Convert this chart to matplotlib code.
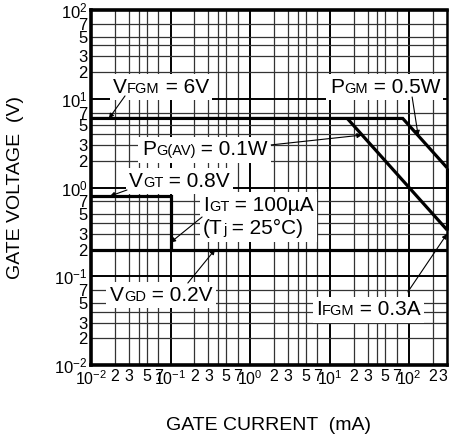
"""
Gate characteristics chart (log-log), recreated with matplotlib.
"""
import matplotlib
matplotlib.use("Agg")
import matplotlib.pyplot as plt
from matplotlib.offsetbox import TextArea, HPacker, VPacker, AnnotationBbox
from matplotlib.ticker import FixedLocator, FixedFormatter

plt.rcParams["font.family"] = ["Liberation Sans", "DejaVu Sans"]
plt.rcParams["mathtext.fontset"] = "custom"
plt.rcParams["mathtext.rm"] = "Liberation Sans"

# ---- data (gate current in mA, gate voltage in V) ----
pgm_i = [0.01, 83.3, 300]          # VFGM = 6V then PGM = 0.5W
pgm_v = [6.0, 6.0, 1.67]
pgav_i = [16.7, 300]               # PG(AV) = 0.1W
pgav_v = [6.0, 0.333]
vgt_i = [0.01, 0.1, 0.1]           # VGT = 0.8V, IGT = 100uA
vgt_v = [0.8, 0.8, 0.2]
vgd_i = [0.01, 300]                # VGD = 0.2V
vgd_v = [0.2, 0.2]
ifgm_i = [300, 300]                # IFGM = 0.3A
ifgm_v = [1.67, 0.333]

decades = [-2, -1, 0, 1, 2]
minor_mant = [2, 3, 4, 5, 7]
label_mant = [2, 3, 5, 7]
x_max = 300
y_max = 100

fig = plt.figure(figsize=(4.49, 4.41), dpi=100)
ax = fig.add_axes([0.2027, 0.1723, 0.7929, 0.805])
ax.set_xscale("log")
ax.set_yscale("log")
ax.set_xlim(1e-2, x_max)
ax.set_ylim(1e-2, y_max)

major_ticks = [10.0 ** d for d in decades]
major_labels = [r"$\mathregular{10^{%d}}$" % d for d in decades]


def minor_ticks(limit):
    ticks, labels = [], []
    for d in decades:
        for m in minor_mant:
            v = m * 10.0 ** d
            if v <= limit * 1.0001:
                ticks.append(v)
                labels.append(str(m) if m in label_mant else "")
    return ticks, labels


for axis, limit in ((ax.xaxis, x_max), (ax.yaxis, y_max)):
    mt, ml = minor_ticks(limit)
    axis.set_major_locator(FixedLocator(major_ticks))
    axis.set_major_formatter(FixedFormatter(major_labels))
    axis.set_minor_locator(FixedLocator(mt))
    axis.set_minor_formatter(FixedFormatter(ml))

ax.tick_params(which="both", length=0, labelsize=12)
ax.tick_params(axis="x", which="both", pad=3, labelsize=11.5)
ax.tick_params(axis="y", which="both", pad=2.5)

# 最右端的 "3" 贴边，右对齐避免被裁切
n_minor_x = len(minor_ticks(x_max)[0])
ax.xaxis.get_minor_ticks(n_minor_x)[-1].label1.set_horizontalalignment("right")

ax.set_axisbelow(True)
ax.grid(which="major", color="black", linewidth=1.4)
ax.grid(which="minor", color="#333333", linewidth=0.9)
for side in ["left", "top", "bottom"]:
    ax.spines[side].set_linewidth(2.6)
ax.spines["right"].set_linewidth(1.8)

# 特性曲线
for xs, ys in [(pgm_i, pgm_v), (pgav_i, pgav_v), (vgt_i, vgt_v),
               (vgd_i, vgd_v), (ifgm_i, ifgm_v)]:
    ax.plot(xs, ys, color="black", linewidth=2.3, solid_joinstyle="miter",
            solid_capstyle="butt", zorder=3, clip_on=False)


def row(parts):
    return HPacker(children=[TextArea(t, textprops=dict(fontsize=s, color="black"))
                             for t, s in parts],
                   align="baseline", pad=0, sep=0)


BIG, SMALL = 15, 10.5
labels = [
    ([[("V", BIG), ("FGM", SMALL), (" = 6V", BIG)]],
     (0.062, 0.783), (0.0955, 0.758), (0.0168, 6.0)),
    ([[("P", BIG), ("GM", SMALL), (" = 0.5W", BIG)]],
     (0.671, 0.783), (0.902, 0.755), (130, 3.85)),
    ([[("P", BIG), ("G(AV)", SMALL), (" = 0.1W", BIG)]],
     (0.143, 0.606), (0.506, 0.620), (25.6, 3.9)),
    ([[("V", BIG), ("GT", SMALL), (" = 0.8V", BIG)]],
     (0.107, 0.518), (0.101, 0.493), (0.0173, 0.8)),
    ([[("I", BIG), ("GT", SMALL), (" = 100µA", BIG)],
      [("(T", BIG), ("j", SMALL), (" = 25°C)", BIG)]],
     (0.315, 0.417), (0.312, 0.417), (0.1, 0.24)),
    ([[("V", BIG), ("GD", SMALL), (" = 0.2V", BIG)]],
     (0.053, 0.197), (0.272, 0.231), (0.363, 0.2)),
    ([[("I", BIG), ("FGM", SMALL), (" = 0.3A", BIG)]],
     (0.632, 0.155), (0.890, 0.206), (300, 0.3)),
]

for lines, pos, start, target in labels:
    if len(lines) == 1:
        box = row(lines[0])
    else:
        box = VPacker(children=[row(l) for l in lines], align="left", pad=0, sep=3)
    ab = AnnotationBbox(box, pos, xycoords="axes fraction", box_alignment=(0, 0.5),
                        frameon=True, pad=0.25,
                        bboxprops=dict(facecolor="white", edgecolor="none"))
    ab.set_zorder(4)
    ax.add_artist(ab)
    ax.annotate("", xy=target, xycoords="data", xytext=start,
                textcoords="axes fraction",
                arrowprops=dict(arrowstyle="-|>", color="black", lw=0.8,
                                mutation_scale=7, shrinkA=0, shrinkB=0),
                zorder=5)

fig.text(0.0345, 0.575, "GATE VOLTAGE  (V)", rotation=90, ha="center",
         va="center", fontsize=14)
fig.text(0.599, 0.035, "GATE CURRENT  (mA)", ha="center", va="center",
         fontsize=14)

fig.savefig("out.png", dpi=100)
